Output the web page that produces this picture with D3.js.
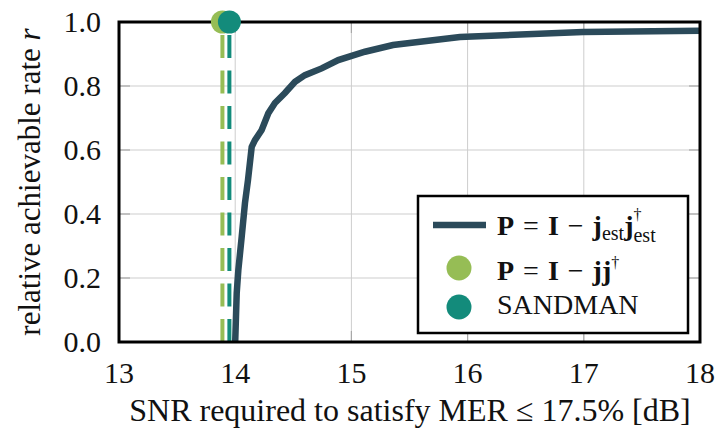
<!DOCTYPE html>
<html>
<head>
<meta charset="utf-8">
<script src="https://cdn.jsdelivr.net/npm/d3@7"></script>
<style>
  html, body { margin: 0; padding: 0; background: #fff; }
  svg { display: block; }
</style>
</head>
<body>
<svg id="chart" width="718" height="429"></svg>
<script>
// Rate vs. required SNR for the estimated projector
const snrEst  = [14.0, 14.013, 14.027, 14.056, 14.084, 14.11, 14.142, 14.17, 14.228, 14.285, 14.342, 14.428, 14.515, 14.60, 14.744, 14.887, 15.117, 15.358, 15.934, 16.993, 18.0];
const rateEst = [0.0, 0.153, 0.225, 0.329, 0.434, 0.506, 0.61, 0.631, 0.6625, 0.715, 0.747, 0.778, 0.813, 0.834, 0.855, 0.881, 0.907, 0.928, 0.953, 0.969, 0.973];

// Single operating points (full rate)
const pointNames = ["perfect", "sandman"];
const pointSnr   = [13.89, 13.95];
const pointRate  = [1.0, 1.0];

const xTicks = [13, 14, 15, 16, 17, 18];
const yTicks = [0.0, 0.2, 0.4, 0.6, 0.8, 1.0];

const colors = { est: "#2b4a5a", perfect: "#96bd55", sandman: "#138b7b" };
const serif = '"Liberation Serif"';

const svg = d3.select("#chart");
const m = { left: 119, right: 700, top: 22, bottom: 342 };

const x = d3.scaleLinear().domain([13, 18]).range([m.left, m.right]);
const y = d3.scaleLinear().domain([0, 1]).range([m.bottom, m.top]);

function txt(sel) {
  return sel.style("font-family", serif).attr("fill", "#111");
}

// grid
const g = svg.append("g");
g.selectAll(".gx").data(xTicks.slice(1, -1)).join("line")
  .attr("x1", d => x(d)).attr("x2", d => x(d))
  .attr("y1", m.top).attr("y2", m.bottom)
  .attr("stroke", "#cdcdcd").attr("stroke-width", 1);
g.selectAll(".gy").data(yTicks.slice(1, -1)).join("line")
  .attr("x1", m.left).attr("x2", m.right)
  .attr("y1", d => y(d)).attr("y2", d => y(d))
  .attr("stroke", "#cdcdcd").attr("stroke-width", 1);

// inward ticks on all four sides
const tl = 11;
const tk = svg.append("g").attr("stroke", "#a8a8a8").attr("stroke-width", 1.2);
xTicks.slice(1, -1).forEach(v => {
  tk.append("line").attr("x1", x(v)).attr("x2", x(v)).attr("y1", m.bottom).attr("y2", m.bottom - tl);
  tk.append("line").attr("x1", x(v)).attr("x2", x(v)).attr("y1", m.top).attr("y2", m.top + tl);
});
yTicks.slice(1, -1).forEach(v => {
  tk.append("line").attr("x1", m.left).attr("x2", m.left + tl).attr("y1", y(v)).attr("y2", y(v));
  tk.append("line").attr("x1", m.right).attr("x2", m.right - tl).attr("y1", y(v)).attr("y2", y(v));
});

// vertical dashed guides for the single operating points
pointSnr.forEach((s, i) => {
  svg.append("line")
    .attr("x1", x(s)).attr("x2", x(s))
    .attr("y1", y(0)).attr("y2", y(pointRate[i]))
    .attr("stroke", colors[pointNames[i]])
    .attr("stroke-width", 4)
    .attr("stroke-dasharray", "23 12.5");
});

// main curve
const line = d3.line().x((d, i) => x(snrEst[i])).y((d, i) => y(rateEst[i]));
svg.append("path")
  .datum(snrEst)
  .attr("d", line)
  .attr("fill", "none")
  .attr("stroke", colors.est)
  .attr("stroke-width", 6.5)
  .attr("stroke-linejoin", "miter");

// frame
svg.append("rect")
  .attr("x", m.left).attr("y", m.top)
  .attr("width", m.right - m.left).attr("height", m.bottom - m.top)
  .attr("fill", "none").attr("stroke", "#000").attr("stroke-width", 3);

// point markers (over the frame)
pointSnr.forEach((s, i) => {
  svg.append("circle")
    .attr("cx", x(s)).attr("cy", y(pointRate[i])).attr("r", 11.5)
    .attr("fill", colors[pointNames[i]]);
});

// tick labels
const fs = 30;
svg.append("g").selectAll("text").data(xTicks).join("text")
  .call(txt)
  .attr("x", d => x(d)).attr("y", 383)
  .attr("text-anchor", "middle").attr("font-size", fs)
  .text(d => d3.format("d")(d));
svg.append("g").selectAll("text").data(yTicks).join("text")
  .call(txt)
  .attr("x", 101).attr("y", d => y(d) + 10)
  .attr("text-anchor", "end").attr("font-size", fs)
  .text(d => d3.format(".1f")(d));

// axis titles
svg.append("text").call(txt)
  .attr("x", 410).attr("y", 421)
  .attr("text-anchor", "middle").attr("font-size", 32)
  .text("SNR required to satisfy MER \u2264 17.5% [dB]");

const yl = svg.append("text").call(txt)
  .attr("transform", `translate(40,${(m.top + m.bottom) / 2}) rotate(-90)`)
  .attr("text-anchor", "middle").attr("font-size", 31);
yl.append("tspan").text("relative achievable rate ");
yl.append("tspan").attr("font-style", "italic").text("r");

// legend
const lg = svg.append("g");
lg.append("rect")
  .attr("x", 418).attr("y", 196).attr("width", 270).attr("height", 137)
  .attr("fill", "#fff").attr("stroke", "#000").attr("stroke-width", 2.5);

lg.append("line").attr("x1", 433).attr("x2", 486).attr("y1", 225).attr("y2", 225)
  .attr("stroke", colors.est).attr("stroke-width", 6.5);
lg.append("circle").attr("cx", 459).attr("cy", 268).attr("r", 12.5).attr("fill", colors.perfect);
lg.append("circle").attr("cx", 459).attr("cy", 307).attr("r", 12.5).attr("fill", colors.sandman);

const lfs = 28, subFs = 20, supFs = 16, gap = 9, tx = 497;

// "P = I − " shared prefix of both projector formulas
function prefix(t) {
  t.append("tspan").attr("font-weight", "bold").text("P");
  t.append("tspan").attr("dx", gap).text("=");
  t.append("tspan").attr("dx", gap).attr("font-weight", "bold").text("I");
  t.append("tspan").attr("dx", gap).text("\u2212");
}

// row 1: P = I − j_est j†_est
const r1 = lg.append("text").call(txt).attr("x", tx).attr("y", 235).attr("font-size", lfs);
prefix(r1);
r1.append("tspan").attr("dx", gap).attr("font-weight", "bold").text("j");
r1.append("tspan").attr("font-size", subFs).attr("dy", 5).text("est");
r1.append("tspan").attr("font-weight", "bold").attr("dy", -5).text("j");
const wj = r1.node().getComputedTextLength();
r1.append("tspan").attr("font-size", supFs).attr("dy", -15).text("\u2020");
r1.append("tspan").attr("font-size", subFs).attr("x", tx + wj + 4 * gap).attr("dy", 22).text("est");

// row 2: P = I − jj†
const r2 = lg.append("text").call(txt).attr("x", tx).attr("y", 280).attr("font-size", lfs);
prefix(r2);
r2.append("tspan").attr("dx", gap).attr("font-weight", "bold").text("jj");
r2.append("tspan").attr("font-size", supFs).attr("dy", -12).text("\u2020");

// row 3
lg.append("text").call(txt).attr("x", tx).attr("y", 314).attr("font-size", lfs).text("SANDMAN");
</script>
</body>
</html>
